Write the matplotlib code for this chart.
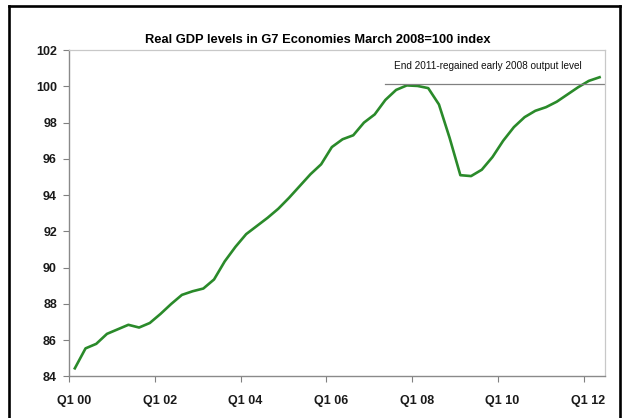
import numpy as np
import matplotlib
matplotlib.use("Agg")
import matplotlib.pyplot as plt
from matplotlib.lines import Line2D
from matplotlib.transforms import ScaledTranslation

# Real GDP, G7, March 2008 = 100, quarterly Q1 2000 .. Q2 2012
gdp = [84.45, 85.55, 85.8, 86.35, 86.6, 86.85, 86.7, 86.95, 87.45, 88.0,
       88.5, 88.7, 88.85, 89.35, 90.35, 91.15, 91.85, 92.3, 92.75, 93.25,
       93.85, 94.5, 95.15, 95.7, 96.65, 97.08, 97.3, 98.0, 98.45, 99.25,
       99.8, 100.05, 100.02, 99.9, 99.0, 97.15, 95.1, 95.05, 95.4, 96.1,
       97.0, 97.75, 98.3, 98.65, 98.85, 99.15, 99.55, 99.95, 100.3, 100.5]
tick_labels = ["Q1 00", "Q1 02", "Q1 04", "Q1 06", "Q1 08", "Q1 10", "Q1 12"]
y_ticks = [84, 86, 88, 90, 92, 94, 96, 98, 100, 102]
ref_level = 100.1
ref_start = 29.5
note = "End 2011-regained early 2008 output level"

fonts = ["Liberation Sans Narrow", "Liberation Sans", "DejaVu Sans"]
plt.rcParams["font.family"] = fonts

fig = plt.figure(figsize=(6.27, 4.18), dpi=100)
ax = fig.add_axes([0.1108, 0.0993, 0.854, 0.781])

x = np.arange(len(gdp)) + 0.5
ax.plot(x, gdp, color="#2a8a2a", lw=1.9, solid_joinstyle="round")
ax.plot([ref_start, len(gdp)], [ref_level, ref_level], color="#808080", lw=0.9)
ax.text(39.1, 101.1, note, ha="center", va="center", fontsize=7.2, color="#111111")

ax.set_xlim(0, len(gdp))
ax.set_ylim(84, 102)
ax.set_xticks(np.arange(0, 49, 8))
ax.set_xticklabels(tick_labels)
ax.set_yticks(y_ticks)
ax.tick_params(axis="both", direction="out", length=4, color="#808080",
               labelsize=9, labelcolor="#1a1a1a")
ax.tick_params(axis="x", pad=9)
ax.tick_params(axis="y", pad=5)
for lab in ax.get_xticklabels() + ax.get_yticklabels():
    lab.set_fontweight("bold")
# x labels sit a little to the right of their ticks in the original
shift = ScaledTranslation(4.5 / 100, 0, fig.dpi_scale_trans)
for lab in ax.get_xticklabels():
    lab.set_transform(lab.get_transform() + shift)

for side in ["left", "bottom"]:
    ax.spines[side].set_color("#8a8a8a")
    ax.spines[side].set_linewidth(1.0)
for side in ["top", "right"]:
    ax.spines[side].set_color("#c8c8c8")
    ax.spines[side].set_linewidth(0.9)

fig.text(0.507, 1 - 40 / 418, "Real GDP levels in G7 Economies March 2008=100 index",
         ha="center", va="center", fontsize=9.3, fontweight="bold")

# black frame around the picture (bottom edge runs off the image)
fw = 1.9
fig.add_artist(Line2D([9 / 627, 9 / 627], [-0.1, 1 - 6 / 418], color="black", lw=fw))
fig.add_artist(Line2D([9 / 627, 620 / 627], [1 - 6 / 418, 1 - 6 / 418], color="black", lw=fw))
fig.add_artist(Line2D([620 / 627, 620 / 627], [-0.1, 1 - 6 / 418], color="black", lw=fw))

fig.savefig("out.png", dpi=100)
